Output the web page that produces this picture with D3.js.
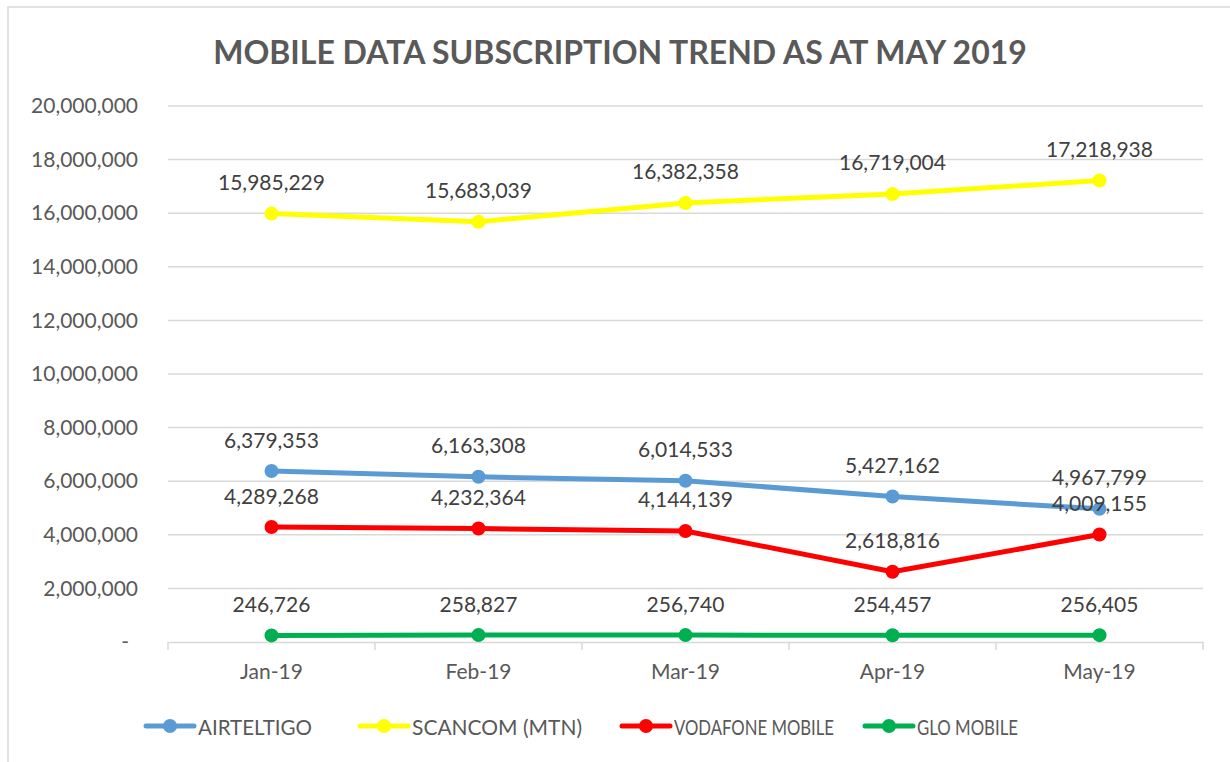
<!DOCTYPE html>
<html>
<head>
<meta charset="utf-8">
<script src="https://cdn.jsdelivr.net/npm/d3@7.9.0/dist/d3.min.js"></script>
<style>
  body { margin: 0; background: #fff; }
  svg { display: block; font-family: Lato, "Open Sans", sans-serif; }
</style>
</head>
<body>
<svg id="chart" width="1230" height="762"></svg>
<script>
const months = ['Jan-19', 'Feb-19', 'Mar-19', 'Apr-19', 'May-19'];
const airteltigo = [6379353, 6163308, 6014533, 5427162, 4967799];
const scancom = [15985229, 15683039, 16382358, 16719004, 17218938];
const vodafone = [4289268, 4232364, 4144139, 2618816, 4009155];
const glo = [246726, 258827, 256740, 254457, 256405];
const yTicks = [0, 2e6, 4e6, 6e6, 8e6, 10e6, 12e6, 14e6, 16e6, 18e6, 20e6];

const series = [
  { name: 'AIRTELTIGO', values: airteltigo, color: '#5B9BD5' },
  { name: 'SCANCOM (MTN)', values: scancom, color: '#FFFF00' },
  { name: 'VODAFONE MOBILE', values: vodafone, color: '#FF0000' },
  { name: 'GLO MOBILE', values: glo, color: '#00B050' }
];

const svg = d3.select('#chart');
const plotLeft = 168, plotRight = 1203, plotTop = 106, plotBottom = 642;

// chart border (right and bottom edges fall outside the picture)
svg.append('rect')
  .attr('x', 8).attr('y', 7).attr('width', 1240).attr('height', 780)
  .attr('fill', 'none').attr('stroke', '#d9d9d9').attr('stroke-width', 1.5);

svg.append('text')
  .attr('x', 620).attr('y', 51)
  .attr('text-anchor', 'middle').attr('dominant-baseline', 'central')
  .attr('font-size', 32).attr('font-weight', 'bold').attr('fill', '#595959')
  .text('MOBILE DATA SUBSCRIPTION TREND AS AT MAY 2019');

const x = d3.scaleBand().domain(months).range([plotLeft, plotRight]);
const y = d3.scaleLinear().domain([0, 20e6]).range([plotBottom, plotTop]);

// gridlines
svg.append('g')
  .selectAll('line')
  .data(yTicks.filter(d => d > 0))
  .join('line')
  .attr('x1', plotLeft).attr('x2', plotRight)
  .attr('y1', d => y(d)).attr('y2', d => y(d))
  .attr('stroke', '#d9d9d9').attr('stroke-width', 1.5);

// y axis labels
const yAxis = svg.append('g')
  .attr('transform', `translate(${plotLeft},0)`)
  .call(d3.axisLeft(y).tickValues(yTicks).tickSize(0).tickPadding(30)
    .tickFormat(d => d === 0 ? '-' : d3.format(',')(d)));
yAxis.select('.domain').remove();
yAxis.selectAll('text')
  .attr('font-size', 21).attr('fill', '#595959').attr('font-family', 'Lato, sans-serif')
  .attr('dx', d => d === 0 ? -9 : 0);

// x axis
const xAxis = svg.append('g')
  .attr('transform', `translate(0,${plotBottom})`)
  .call(d3.axisBottom(x).tickSize(0).tickPadding(22));
xAxis.select('.domain').attr('stroke', '#d9d9d9').attr('stroke-width', 1.5);
xAxis.selectAll('text')
  .attr('font-size', 21).attr('fill', '#595959').attr('font-family', 'Lato, sans-serif');
svg.append('g')
  .selectAll('line')
  .data(d3.range(months.length + 1))
  .join('line')
  .attr('x1', i => plotLeft + i * x.step()).attr('x2', i => plotLeft + i * x.step())
  .attr('y1', plotBottom).attr('y2', plotBottom + 8)
  .attr('stroke', '#d9d9d9').attr('stroke-width', 1.5);

const cx = m => x(m) + x.bandwidth() / 2;
const line = d3.line().x((d, i) => cx(months[i])).y(d => y(d));

series.forEach(s => {
  const g = svg.append('g');
  g.append('path')
    .attr('d', line(s.values))
    .attr('fill', 'none').attr('stroke', s.color)
    .attr('stroke-width', 5).attr('stroke-linejoin', 'round');
  g.selectAll('circle')
    .data(s.values)
    .join('circle')
    .attr('cx', (d, i) => cx(months[i])).attr('cy', d => y(d))
    .attr('r', 7).attr('fill', s.color);
  g.selectAll('text')
    .data(s.values)
    .join('text')
    .attr('x', (d, i) => cx(months[i])).attr('y', d => y(d) - 32)
    .attr('text-anchor', 'middle').attr('dominant-baseline', 'central')
    .attr('font-size', 21).attr('fill', '#404040')
    .text(d => d3.format(',')(d));
});

// legend (Calibri-like narrow widths)
const legendX = [146, 360, 622, 865];
const legendTextW = [114, 170, 160, 101];
const legend = svg.append('g');
series.forEach((s, i) => {
  const lg = legend.append('g').attr('transform', `translate(${legendX[i]},726)`);
  lg.append('line')
    .attr('x1', 0).attr('x2', 48).attr('y1', 0).attr('y2', 0)
    .attr('stroke', s.color).attr('stroke-width', 5).attr('stroke-linecap', 'round');
  lg.append('circle').attr('cx', 24).attr('cy', 0).attr('r', 7).attr('fill', s.color);
  lg.append('text')
    .attr('x', 52).attr('y', 0).attr('dominant-baseline', 'central')
    .attr('font-size', 21).attr('fill', '#595959')
    .attr('textLength', legendTextW[i]).attr('lengthAdjust', 'spacingAndGlyphs')
    .text(s.name);
});
</script>
</body>
</html>
